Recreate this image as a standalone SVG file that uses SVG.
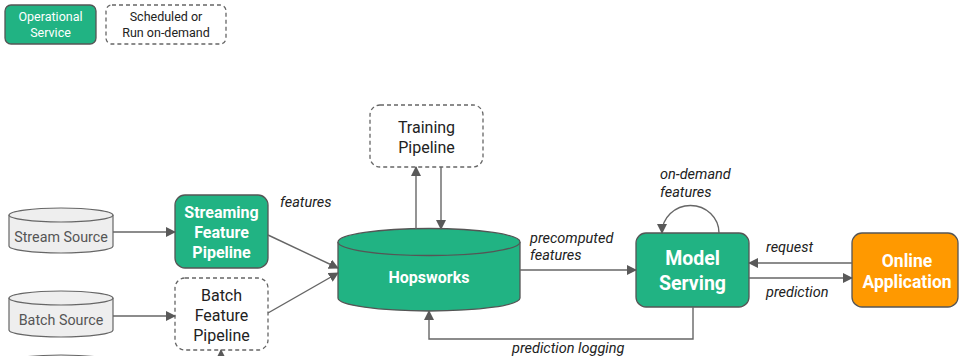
<svg xmlns="http://www.w3.org/2000/svg" width="960" height="356" viewBox="0 0 960 356">
<defs>
<marker id="ah" viewBox="0 0 10 10" refX="9" refY="5" markerWidth="10" markerHeight="10" markerUnits="userSpaceOnUse" orient="auto">
<path d="M0,0 L10,5 L0,10 z" fill="#595959"/>
</marker>
<style>
.op{fill:#21b383;stroke:#555;stroke-width:1.3}
.dash{fill:#fff;stroke:#666;stroke-width:1.3;stroke-dasharray:4 3}
.src{fill:#eeeeee;stroke:#666;stroke-width:1.2}
.line{fill:none;stroke:#666;stroke-width:1.4}
.wb{font-family:Roboto,"Liberation Sans",sans-serif;fill:#fff;font-weight:bold;text-anchor:middle}
.w{font-family:Roboto,"Liberation Sans",sans-serif;fill:#fff;text-anchor:middle}
.b{font-family:Roboto,"Liberation Sans",sans-serif;fill:#222;text-anchor:middle}
.g{font-family:Roboto,"Liberation Sans",sans-serif;fill:#555;text-anchor:middle}
.lab{font-family:Roboto,"Liberation Sans",sans-serif;fill:#222;font-style:italic;font-size:14.5px}
</style>
</defs>
<rect width="960" height="356" fill="#fff"/>

<g id="legend-operational">
<rect class="op" x="5" y="5" width="91" height="39" rx="6"/>
<text class="w" font-size="12.5" x="50.5" y="21">Operational</text>
<text class="w" font-size="12.5" x="50.5" y="37">Service</text>
</g>
<g id="legend-scheduled">
<rect class="dash" x="106" y="5" width="120" height="39" rx="6"/>
<text class="b" font-size="12.5" x="166" y="21">Scheduled or</text>
<text class="b" font-size="12.5" x="166" y="37">Run on-demand</text>
</g>

<g id="stream-source">
<path class="src" d="M9,215 L9,246 A52,7 0 0 0 113,246 L113,215"/>
<ellipse class="src" cx="61" cy="215" rx="52" ry="7"/>
<text class="g" font-size="14.3" x="61" y="242">Stream Source</text>
</g>
<g id="batch-source">
<path class="src" d="M9,298 L9,330 A52,7 0 0 0 113,330 L113,298"/>
<ellipse class="src" cx="61" cy="298" rx="52" ry="7"/>
<text class="g" font-size="14.3" x="61" y="325">Batch Source</text>
</g>
<g id="third-source">
<path class="src" d="M9,362 L9,380 A52,7 0 0 0 113,380 L113,362"/>
<ellipse class="src" cx="61" cy="362" rx="52" ry="7"/>
</g>

<g id="streaming-pipeline">
<rect class="op" x="175" y="195" width="93" height="73" rx="10"/>
<text class="wb" font-size="16" x="221.5" y="218">Streaming</text>
<text class="wb" font-size="16" x="221.5" y="238">Feature</text>
<text class="wb" font-size="16" x="221.5" y="258">Pipeline</text>
</g>
<g id="batch-pipeline">
<rect class="dash" x="175" y="278" width="93" height="72" rx="10"/>
<text class="b" font-size="16" x="221.5" y="301">Batch</text>
<text class="b" font-size="16" x="221.5" y="321">Feature</text>
<text class="b" font-size="16" x="221.5" y="341">Pipeline</text>
</g>

<g id="training-pipeline">
<rect class="dash" x="370" y="105" width="113" height="62" rx="10"/>
<text class="b" font-size="16" x="426.5" y="133">Training</text>
<text class="b" font-size="16" x="426.5" y="153">Pipeline</text>
</g>

<g id="hopsworks">
<path class="op" d="M338,242 L338,298 A91,13 0 0 0 520,298 L520,242"/>
<ellipse class="op" cx="429" cy="242" rx="91" ry="13.5"/>
<text class="wb" font-size="16" x="429" y="283">Hopsworks</text>
</g>

<g id="model-serving">
<rect class="op" x="636" y="233" width="113" height="74" rx="10"/>
<text class="wb" font-size="19.5" x="692.5" y="265">Model</text>
<text class="wb" font-size="19.5" x="692.5" y="290">Serving</text>
</g>

<g id="online-application">
<rect x="852" y="233" width="106" height="74" rx="10" fill="#ff9900" stroke="#555" stroke-width="1.3"/>
<text class="wb" font-size="17.5" x="907" y="267">Online</text>
<text class="wb" font-size="17.5" x="907" y="288">Application</text>
</g>

<g id="connectors">
<line class="line" x1="113" y1="232" x2="175" y2="232" marker-end="url(#ah)"/>
<line class="line" x1="113" y1="316" x2="175" y2="316" marker-end="url(#ah)"/>
<line class="line" x1="268" y1="235" x2="338" y2="268" marker-end="url(#ah)"/>
<line class="line" x1="268" y1="313" x2="338" y2="273" marker-end="url(#ah)"/>
<line class="line" x1="416" y1="229" x2="416" y2="167" marker-end="url(#ah)"/>
<line class="line" x1="441" y1="167" x2="441" y2="229" marker-end="url(#ah)"/>
<line class="line" x1="520" y1="270" x2="636" y2="270" marker-end="url(#ah)"/>
<path class="line" d="M719,233 A28,27 0 1 0 662,233" marker-end="url(#ah)"/>
<line class="line" x1="852" y1="263" x2="749" y2="263" marker-end="url(#ah)"/>
<line class="line" x1="749" y1="278" x2="852" y2="278" marker-end="url(#ah)"/>
<path class="line" d="M693,307 L693,339 L429,339 L429,311" marker-end="url(#ah)"/>
<line class="line" x1="221" y1="366" x2="221" y2="350" marker-end="url(#ah)"/>
<text class="lab" x="280" y="207">features</text>
<text class="lab" x="530" y="243">precomputed</text>
<text class="lab" x="530" y="260">features</text>
<text class="lab" x="660" y="179">on-demand</text>
<text class="lab" x="660" y="197">features</text>
<text class="lab" x="766" y="252">request</text>
<text class="lab" x="766" y="297">prediction</text>
<text class="lab" x="512" y="353">prediction logging</text>
</g>
</svg>
